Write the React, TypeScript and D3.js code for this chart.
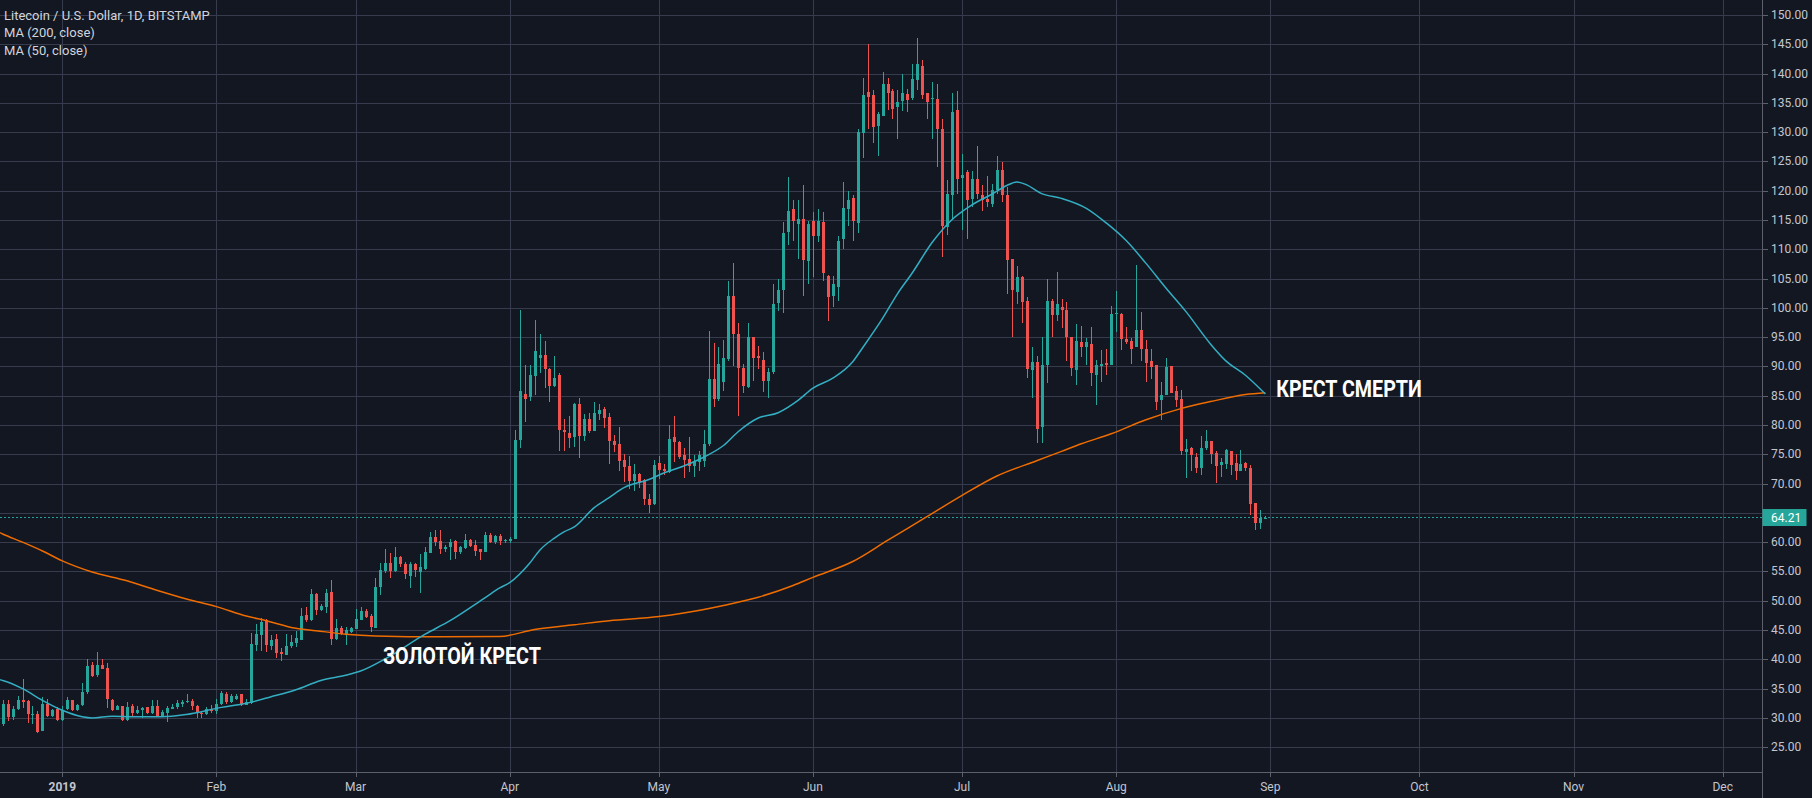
import React from 'react';
import * as d3 from 'd3';

// ---------- data ----------
const FIRST_DAY = '2018-12-20';
const LAST_DAY = '2019-08-31';

const opens = [
  28.9, 32.3, 30.1, 31.5, 33.1, 32.9, 30.6, 30.6, 27.7, 32.4, 30.4, 31.5,
  29.6, 31.5, 33.0, 31.4, 32.2, 34.5, 39.0, 37.3, 39.1, 38.6, 33.1, 31.4, 32.0, 29.6, 32.0, 30.8, 31.4, 31.8, 30.8, 32.1, 30.4, 30.9, 31.6, 31.8, 32.3, 32.8, 32.9, 32.0, 30.9, 30.6, 31.6,
  31.1, 32.3, 34.1, 32.7, 33.2, 34.0, 32.2, 32.6, 42.4, 44.1, 46.7, 42.2, 43.4, 41.2, 40.7, 42.2, 42.8, 43.3, 47.5, 46.7, 51.1, 48.4, 49.0, 51.5, 43.4, 45.3, 44.4, 44.7,
  45.1, 46.8, 48.3, 47.4, 45.3, 52.3, 55.0, 56.5, 55.0, 57.4, 56.3, 54.3, 56.2, 54.9, 55.4, 58.2, 60.9, 60.2, 58.8, 59.1, 60.2, 58.3, 59.0, 60.4, 59.5, 58.8, 58.3, 61.2, 60.0, 61.1, 60.2,
  60.2, 60.6, 77.4, 85.3, 84.8, 88.4, 91.5, 91.9, 89.6, 86.6, 88.6, 79.2, 78.7, 78.0, 83.6, 78.1, 81.1, 79.0, 81.9, 82.7, 81.3, 77.3, 76.7, 74.0, 73.0, 70.4, 71.6, 70.6, 67.4, 66.6,
  73.5, 72.5, 72.0, 77.9, 77.1, 74.9, 74.2, 73.0, 73.7, 73.8, 76.7, 87.8, 84.5, 87.4, 91.3, 102.1, 95.6, 89.8, 86.5, 95.0, 91.8, 91.1, 87.5, 89.0, 100.8, 103.0, 112.9, 116.9, 114.4, 115.2, 108.0,
  114.8, 112.3, 114.7, 105.5, 102.1, 103.6, 111.8, 116.9, 118.8, 114.5, 129.9, 136.8, 136.3, 131.0, 132.7, 138.2, 137.0, 134.3, 135.4, 136.5, 135.8, 138.9, 141.3, 136.6, 135.6, 135.6, 130.5, 113.8, 119.2, 133.8,
  122.2, 123.2, 118.6, 122.0, 119.2, 118.6, 117.8, 120.1, 123.5, 119.2, 108.3, 102.7, 105.2, 101.2, 89.4, 90.7, 79.6, 90.3, 101.1, 98.7, 100.2, 99.7, 95.0, 89.4, 94.1, 93.3, 93.9, 88.5, 90.0, 90.6, 90.2,
  98.9, 98.9, 94.7, 94.3, 93.3, 96.2, 92.9, 90.9, 90.2, 84.2, 85.1, 90.0, 85.8, 84.5, 75.4, 76.1, 74.6, 72.6, 76.1, 77.2, 75.3, 73.2, 73.3, 75.5, 73.5, 72.1, 73.5, 72.7, 66.7, 63.3, 64.1,
];

const highs = [
  33.1, 33.0, 32.0, 33.8, 36.6, 33.1, 32.0, 31.1, 33.6, 33.3, 31.6, 31.8,
  32.0, 33.6, 33.1, 32.4, 36.0, 40.1, 39.5, 41.2, 40.0, 39.3, 33.2, 32.2, 32.0, 32.7, 32.3, 32.0, 31.9, 31.8, 33.0, 33.1, 31.3, 32.0, 32.3, 33.1, 33.1, 34.0, 33.3, 32.2, 31.1, 31.8, 32.2,
  33.2, 34.6, 34.4, 34.0, 34.0, 34.0, 33.2, 44.5, 46.0, 47.0, 46.9, 44.2, 44.4, 42.0, 44.3, 44.2, 44.8, 48.7, 48.9, 52.0, 51.3, 49.5, 52.0, 53.5, 46.9, 45.7, 45.5, 45.5,
  48.6, 49.0, 48.6, 47.8, 53.9, 56.5, 58.9, 58.1, 59.2, 57.7, 56.7, 56.6, 56.5, 58.0, 59.1, 61.7, 62.0, 62.0, 59.6, 60.5, 60.3, 59.4, 61.4, 60.5, 60.3, 58.8, 61.7, 61.5, 61.3, 61.4, 60.5,
  60.8, 79.2, 99.7, 90.3, 90.3, 97.9, 95.5, 94.3, 89.7, 91.8, 88.8, 81.1, 81.6, 83.8, 84.6, 81.8, 82.0, 84.0, 83.6, 83.1, 82.1, 78.3, 79.7, 75.0, 74.7, 73.3, 71.8, 70.8, 68.2, 74.0,
  74.7, 73.3, 80.0, 81.5, 77.3, 76.0, 77.9, 74.8, 75.6, 79.2, 96.0, 94.0, 93.4, 94.5, 104.6, 107.6, 97.5, 90.5, 97.4, 95.0, 93.5, 92.4, 89.8, 104.0, 105.0, 114.7, 122.4, 118.4, 118.5, 120.9, 114.8,
  116.3, 116.8, 116.3, 105.6, 105.4, 112.2, 121.5, 119.9, 119.2, 130.6, 139.2, 145.0, 137.2, 133.4, 140.3, 139.2, 137.3, 137.2, 140.0, 137.3, 141.7, 146.0, 142.3, 136.6, 138.6, 138.2, 132.3, 121.8, 136.6, 137.0,
  126.3, 123.5, 123.3, 127.6, 120.9, 122.5, 121.2, 125.9, 124.9, 120.6, 108.3, 107.2, 105.4, 101.8, 93.3, 91.8, 95.0, 105.0, 101.6, 106.1, 101.6, 101.0, 95.0, 97.3, 96.9, 94.9, 96.7, 91.1, 92.8, 92.9, 100.3,
  102.9, 99.2, 96.8, 94.9, 107.3, 99.3, 94.5, 92.9, 90.2, 87.3, 91.5, 90.0, 86.6, 85.9, 77.7, 76.3, 75.3, 78.1, 79.1, 77.2, 75.5, 74.4, 75.9, 75.5, 75.0, 75.7, 73.7, 73.1, 66.7, 65.5, 64.5,
];

const lows = [
  28.7, 29.5, 29.7, 31.3, 31.7, 29.1, 29.0, 27.5, 27.7, 30.2, 30.1, 29.4,
  29.5, 31.4, 31.1, 31.2, 32.0, 34.0, 37.0, 37.0, 38.3, 31.7, 31.1, 31.3, 29.5, 29.5, 30.4, 30.7, 30.0, 30.6, 30.7, 30.1, 30.3, 29.3, 31.5, 31.5, 31.9, 32.6, 31.4, 30.0, 30.0, 30.5, 30.9,
  30.7, 32.2, 32.4, 32.6, 33.1, 32.0, 32.2, 32.4, 41.5, 41.5, 41.3, 41.6, 40.2, 39.7, 40.7, 41.9, 42.1, 43.3, 46.4, 46.5, 47.5, 48.3, 47.9, 42.4, 43.3, 44.1, 42.5, 44.5,
  45.1, 46.7, 47.1, 44.6, 45.3, 51.0, 54.7, 53.9, 54.9, 55.8, 53.7, 52.2, 54.0, 51.4, 55.2, 58.1, 59.4, 58.0, 58.4, 57.0, 57.1, 58.0, 58.8, 59.2, 57.7, 57.0, 58.3, 59.8, 59.7, 59.6, 59.9,
  59.9, 60.5, 76.1, 80.6, 84.1, 85.2, 88.8, 86.4, 83.9, 86.5, 75.5, 75.6, 76.1, 76.3, 74.4, 77.2, 78.6, 79.0, 80.8, 79.5, 73.4, 75.4, 72.1, 70.3, 69.0, 68.7, 69.3, 66.4, 64.9, 66.4,
  70.8, 71.5, 71.8, 73.7, 74.2, 71.0, 72.0, 71.2, 72.1, 72.8, 76.5, 83.0, 84.1, 85.8, 91.0, 90.1, 81.6, 85.4, 86.3, 87.6, 89.5, 85.6, 84.7, 88.7, 99.4, 99.2, 110.7, 111.5, 108.4, 102.0, 104.1,
  105.2, 111.2, 104.6, 97.7, 100.1, 101.1, 110.0, 114.0, 111.4, 112.8, 125.6, 130.5, 128.2, 125.9, 132.7, 133.8, 132.2, 128.8, 133.6, 133.5, 135.5, 137.2, 135.6, 132.2, 128.8, 124.1, 108.7, 112.4, 115.0, 119.5,
  113.3, 111.8, 117.2, 118.6, 116.5, 117.2, 117.2, 119.5, 118.1, 102.4, 95.1, 100.6, 97.5, 88.1, 84.7, 77.0, 77.0, 87.1, 95.0, 97.7, 96.5, 90.9, 88.4, 86.9, 91.6, 90.2, 86.7, 83.4, 87.4, 88.5, 90.2,
  95.9, 92.8, 93.8, 90.4, 93.3, 91.0, 87.4, 87.9, 82.5, 80.8, 85.1, 85.4, 83.1, 74.8, 70.9, 72.2, 71.8, 71.5, 75.7, 73.3, 70.1, 71.1, 72.5, 71.4, 70.7, 72.1, 72.1, 64.7, 62.0, 62.3, 63.9,
];

const closes = [
  32.3, 30.1, 31.5, 33.1, 32.7, 30.6, 30.7, 27.6, 32.3, 30.4, 31.4, 29.6,
  31.4, 33.0, 31.4, 32.2, 34.5, 38.9, 37.2, 39.1, 38.3, 33.2, 31.4, 32.1, 29.6, 31.9, 30.8, 31.4, 31.7, 30.8, 32.1, 30.4, 31.0, 31.7, 31.9, 32.5, 32.8, 32.9, 32.0, 30.8, 30.6, 31.5, 31.1,
  32.3, 34.2, 32.7, 33.7, 33.8, 32.2, 32.8, 42.7, 44.3, 46.3, 42.4, 43.3, 41.1, 40.9, 42.2, 43.0, 43.7, 47.4, 46.7, 51.1, 48.4, 49.1, 51.4, 43.4, 45.3, 44.4, 45.0, 45.3,
  46.9, 48.3, 47.3, 45.6, 52.3, 55.2, 56.5, 55.1, 57.5, 56.2, 54.6, 56.2, 55.2, 55.7, 58.3, 60.9, 60.1, 58.8, 59.2, 60.1, 58.4, 59.2, 60.4, 59.4, 58.5, 58.3, 61.3, 60.0, 61.1, 60.2, 60.4,
  60.6, 77.4, 85.8, 84.5, 88.6, 92.7, 91.9, 89.5, 86.7, 88.1, 79.2, 78.8, 77.8, 83.6, 78.2, 81.1, 79.0, 82.1, 82.5, 81.2, 77.3, 76.6, 73.9, 72.9, 70.4, 71.6, 70.1, 67.4, 66.3, 73.2,
  72.3, 72.1, 77.7, 77.1, 74.5, 74.0, 73.0, 73.7, 74.8, 76.7, 87.9, 84.5, 90.4, 91.5, 102.1, 95.5, 89.7, 86.7, 95.0, 91.4, 91.4, 87.6, 89.0, 100.6, 103.1, 112.7, 116.5, 114.8, 115.2, 108.1, 114.3,
  112.3, 114.8, 105.9, 101.8, 104.0, 111.4, 117.1, 118.5, 114.9, 130.0, 136.3, 136.0, 130.9, 133.1, 138.2, 136.7, 134.0, 135.1, 136.7, 135.5, 139.1, 141.6, 136.3, 135.2, 135.8, 130.5, 113.9, 119.4, 133.5, 122.0,
  122.6, 118.5, 122.0, 119.4, 118.5, 118.1, 120.2, 123.5, 119.2, 108.1, 103.1, 105.2, 101.0, 89.6, 90.7, 79.4, 90.3, 101.2, 98.7, 100.6, 99.7, 95.1, 89.7, 94.4, 93.3, 94.2, 88.8, 90.2, 90.4, 90.2, 98.9,
  99.1, 94.7, 94.2, 92.9, 96.2, 92.9, 90.6, 89.9, 84.0, 85.2, 89.9, 85.5, 84.2, 75.5, 75.9, 74.8, 72.6, 76.1, 77.2, 75.0, 73.0, 73.7, 75.7, 73.1, 72.1, 73.4, 72.6, 66.5, 63.2, 64.1, 64.21,
];

// Moving averages, values at these dates
const ma50Dates = [
  '2018-12-19', '2018-12-20', '2018-12-24', '2018-12-28', '2019-01-01', '2019-01-05', '2019-01-07', '2019-01-11',
  '2019-01-15', '2019-01-21', '2019-01-26', '2019-02-02', '2019-02-07', '2019-02-12', '2019-02-17', '2019-02-22',
  '2019-02-27', '2019-03-02', '2019-03-07', '2019-03-15', '2019-03-20', '2019-03-27', '2019-03-30', '2019-04-01',
  '2019-04-05', '2019-04-07', '2019-04-10', '2019-04-12', '2019-04-14', '2019-04-18', '2019-04-21', '2019-04-24',
  '2019-04-29', '2019-05-02', '2019-05-06', '2019-05-10', '2019-05-14', '2019-05-17', '2019-05-21', '2019-05-25',
  '2019-05-29', '2019-06-01', '2019-06-05', '2019-06-09', '2019-06-11', '2019-06-15', '2019-06-18', '2019-06-21',
  '2019-06-25', '2019-06-29', '2019-07-03', '2019-07-07', '2019-07-10', '2019-07-12', '2019-07-14', '2019-07-17',
  '2019-07-21', '2019-07-26', '2019-07-30', '2019-08-03', '2019-08-07', '2019-08-11', '2019-08-15', '2019-08-20',
  '2019-08-23', '2019-08-27', '2019-08-31',
];
const ma50Values = [
  36.6, 36.4, 35.0, 33.0, 31.3, 30.2, 30.0, 30.3,
  30.2, 30.2, 30.6, 31.8, 32.5, 33.6, 34.8, 36.4,
  37.3, 38.0, 40.1, 44.3, 46.6, 50.5, 52.2, 53.1,
  56.4, 58.6, 60.7, 61.8, 62.6, 65.9, 67.6, 69.3,
  70.7, 71.8, 73.0, 74.5, 76.5, 78.9, 81.2, 82.1,
  84.2, 86.3, 88.0, 90.8, 93.2, 98.2, 102.4, 106.0,
  111.2, 115.1, 117.6, 119.4, 120.9, 121.5, 121.0, 119.5,
  118.7, 117.0, 114.5, 111.5, 107.6, 103.4, 99.4, 93.8,
  91.0, 88.5, 85.3,
];

const ma200Dates = [
  '2018-12-19', '2018-12-20', '2018-12-24', '2018-12-28', '2019-01-01', '2019-01-07', '2019-01-14', '2019-01-20',
  '2019-01-26', '2019-02-01', '2019-02-07', '2019-02-11', '2019-02-17', '2019-02-21', '2019-02-27', '2019-03-05',
  '2019-03-18', '2019-03-30', '2019-04-06', '2019-04-14', '2019-04-21', '2019-05-01', '2019-05-06', '2019-05-14',
  '2019-05-21', '2019-05-28', '2019-06-01', '2019-06-09', '2019-06-16', '2019-06-24', '2019-07-01', '2019-07-08',
  '2019-07-16', '2019-07-21', '2019-07-25', '2019-07-31', '2019-08-07', '2019-08-14', '2019-08-20', '2019-08-27',
  '2019-08-31',
];
const ma200Values = [
  61.8, 61.4, 60.0, 58.5, 56.8, 54.9, 53.4, 51.8,
  50.3, 49.0, 47.4, 46.6, 45.3, 44.9, 44.3, 44.0,
  43.85, 43.9, 45.1, 45.9, 46.6, 47.3, 47.9, 49.2,
  50.6, 52.6, 54.0, 56.7, 60.3, 64.4, 68.0, 71.3,
  73.9, 75.5, 76.8, 78.5, 80.9, 82.8, 84.0, 85.2,
  85.5,
];

const priceTicks = [25, 30, 35, 40, 45, 50, 55, 60, 65, 70, 75, 80, 85, 90, 95, 100, 105, 110, 115, 120, 125, 130, 135, 140, 145, 150];
const monthTicks = ['2019-01-01', '2019-02-01', '2019-03-01', '2019-04-01', '2019-05-01', '2019-06-01', '2019-07-01', '2019-08-01', '2019-09-01', '2019-10-01', '2019-11-01', '2019-12-01'];
const monthLabels = ['2019', 'Feb', 'Mar', 'Apr', 'May', 'Jun', 'Jul', 'Aug', 'Sep', 'Oct', 'Nov', 'Dec'];

const LAST_PRICE = 64.21;
const TITLE = 'Litecoin / U.S. Dollar, 1D, BITSTAMP';
const LEGEND_LINES = ['MA (200, close)', 'MA (50, close)'];
const GOLDEN_LABEL = 'ЗОЛОТОЙ КРЕСТ';
const GOLDEN_AT = { date: '2019-03-06T12:00:00Z', price: 39.15 };
const DEATH_LABEL = 'КРЕСТ СМЕРТИ';
const DEATH_AT = { date: '2019-09-02T05:00:00Z', price: 84.73 };

// ---------- styling ----------
const BG = '#131722';
const GRID = '#363c4e';
const AXIS = '#5d606b';
const TEXT = '#c3c6ce';
const UP = '#26a69a';
const DOWN = '#ef5350';
const MA50_COLOR = '#33aec3';
const MA200_COLOR = '#ef6c00';
const FONT = 'Roboto, "Noto Sans", "DejaVu Sans", sans-serif';

const W = 1812;
const H = 798;
const PLOT_RIGHT = 1762.5;
const PLOT_BOTTOM = 772.5;

const utc = (s: string) => new Date(s.length > 10 ? s : s + 'T00:00:00Z');

export default function App() {
  const x = d3.scaleUtc().domain([utc('2019-01-01'), utc('2019-09-01')]).range([62.3, 1270.3]);
  const y = d3.scaleLinear().domain([25, 150]).range([747.2, 15.0]);

  const days = d3.utcDay.range(utc(FIRST_DAY), d3.utcDay.offset(utc(LAST_DAY), 1));
  const candles = days.map((d, i) => ({ date: d, o: opens[i], h: highs[i], l: lows[i], c: closes[i] }));

  const line = d3
    .line<{ date: Date; v: number }>()
    .x((d) => x(d.date))
    .y((d) => y(d.v))
    .curve(d3.curveMonotoneX);
  const ma50 = ma50Dates.map((s, i) => ({ date: utc(s), v: ma50Values[i] }));
  const ma200 = ma200Dates.map((s, i) => ({ date: utc(s), v: ma200Values[i] }));

  const bodyW = 3;
  const yLast = y(LAST_PRICE);
  // axis labels hidden behind the last-price label
  const visibleLabels = priceTicks.filter((p) => Math.abs(y(p) - yLast) > 14);

  return (
    <div style={{ position: 'absolute', left: 0, top: 0, width: W, height: H, background: BG }}>
      <style>{`body{margin:0;background:${BG};}`}</style>
      <svg width={W} height={H} viewBox={`0 0 ${W} ${H}`} style={{ display: 'block', fontFamily: FONT }}>
        <defs>
          <clipPath id="plot">
            <rect x={0} y={0} width={PLOT_RIGHT} height={PLOT_BOTTOM} />
          </clipPath>
        </defs>
        <rect x={0} y={0} width={W} height={H} fill={BG} />

        {/* grid */}
        <g shapeRendering="crispEdges">
          {priceTicks.map((p) => (
            <line key={'h' + p} x1={0} x2={PLOT_RIGHT} y1={Math.round(y(p)) + 0.5} y2={Math.round(y(p)) + 0.5} stroke={GRID} strokeWidth={1} />
          ))}
          {monthTicks.map((m) => {
            const xx = Math.round(x(utc(m))) + 0.5;
            return <line key={'v' + m} x1={xx} x2={xx} y1={0} y2={PLOT_BOTTOM} stroke={GRID} strokeWidth={1} />;
          })}
        </g>

        {/* last price dotted line */}
        <line x1={0} x2={PLOT_RIGHT} y1={yLast} y2={yLast} stroke={UP} strokeWidth={1} strokeDasharray="2 2" />

        <g clipPath="url(#plot)">
          {/* candles */}
          <g shapeRendering="crispEdges">
            {candles.map((k, i) => {
              const cx = Math.round(x(k.date));
              const col = k.c >= k.o ? UP : DOWN;
              const top = y(Math.max(k.o, k.c));
              const bot = y(Math.min(k.o, k.c));
              return (
                <g key={i}>
                  <rect x={cx} y={y(k.h)} width={1} height={Math.max(1, y(k.l) - y(k.h))} fill={col} />
                  <rect x={cx - 1} y={top} width={bodyW} height={Math.max(1, bot - top)} fill={col} />
                </g>
              );
            })}
          </g>

          {/* moving averages */}
          <path d={line(ma200) || ''} fill="none" stroke={MA200_COLOR} strokeWidth={1.5} />
          <path d={line(ma50) || ''} fill="none" stroke={MA50_COLOR} strokeWidth={1.5} />
        </g>

        {/* annotations */}
        <text
          x={x(utc(GOLDEN_AT.date))}
          y={y(GOLDEN_AT.price)}
          fill="#ffffff"
          fontFamily='"Liberation Sans Narrow", Roboto, sans-serif'
          fontWeight={700}
          fontSize={24}
          textLength={158}
          lengthAdjust="spacingAndGlyphs"
        >
          {GOLDEN_LABEL}
        </text>
        <text
          x={x(utc(DEATH_AT.date))}
          y={y(DEATH_AT.price)}
          fill="#ffffff"
          fontFamily='"Liberation Sans Narrow", Roboto, sans-serif'
          fontWeight={700}
          fontSize={24}
          textLength={145.5}
          lengthAdjust="spacingAndGlyphs"
        >
          {DEATH_LABEL}
        </text>

        {/* legend */}
        <g fill="#d1d4dc" fontSize={13}>
          <text x={4} y={19.5}>{TITLE}</text>
          {LEGEND_LINES.map((t, i) => (
            <text key={t} x={4} y={37 + i * 17.5}>
              {t}
            </text>
          ))}
        </g>

        {/* axes */}
        <g shapeRendering="crispEdges">
          <line x1={PLOT_RIGHT} x2={PLOT_RIGHT} y1={0} y2={H} stroke={AXIS} strokeWidth={1} />
          <line x1={0} x2={PLOT_RIGHT} y1={PLOT_BOTTOM} y2={PLOT_BOTTOM} stroke={AXIS} strokeWidth={1} />
          {priceTicks.map((p) => (
            <line key={'pt' + p} x1={PLOT_RIGHT} x2={PLOT_RIGHT + 5} y1={Math.round(y(p)) + 0.5} y2={Math.round(y(p)) + 0.5} stroke={AXIS} />
          ))}
          {monthTicks.map((m) => {
            const xx = Math.round(x(utc(m))) + 0.5;
            return <line key={'mt' + m} x1={xx} x2={xx} y1={PLOT_BOTTOM} y2={PLOT_BOTTOM + 4} stroke={AXIS} />;
          })}
        </g>
        <g fill={TEXT} fontSize={12}>
          {visibleLabels.map((p) => (
            <text key={'pl' + p} x={1771} y={y(p)} dominantBaseline="central">
              {p.toFixed(2)}
            </text>
          ))}
          {monthTicks.map((m, i) => (
            <text key={'ml' + m} x={x(utc(m))} y={787} textAnchor="middle" dominantBaseline="central" fontWeight={i === 0 ? 700 : 400}>
              {monthLabels[i]}
            </text>
          ))}
        </g>

        {/* last price label */}
        <rect x={PLOT_RIGHT} y={yLast - 8.5} width={44} height={17} fill={UP} />
        <text x={1771} y={yLast} fill="#ffffff" fontSize={12} dominantBaseline="central">
          {LAST_PRICE.toFixed(2)}
        </text>
      </svg>
    </div>
  );
}
